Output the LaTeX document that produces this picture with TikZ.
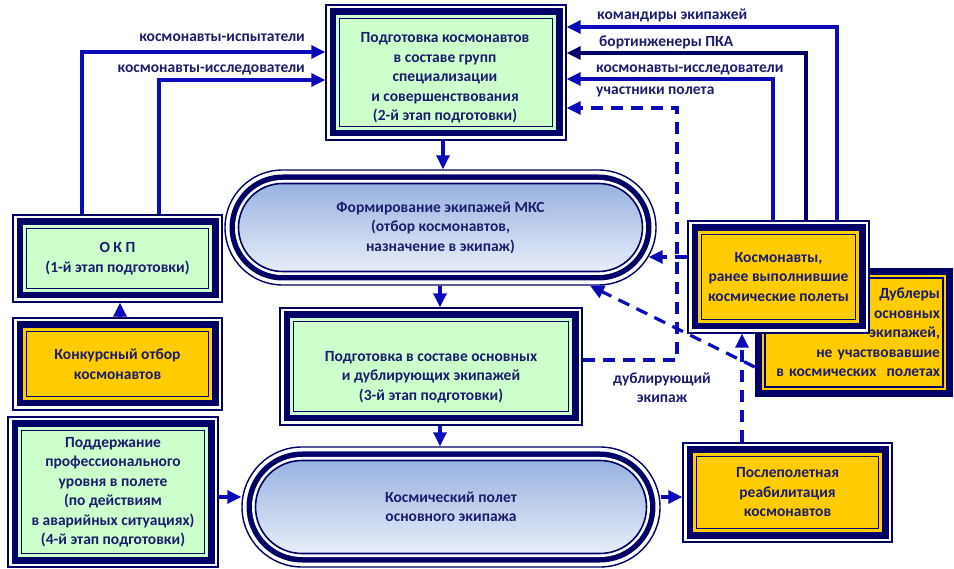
\documentclass[tikz,border=0pt]{standalone}
\usepackage{fontspec}
\setmainfont{Carlito}
\usetikzlibrary{arrows.meta}
\definecolor{navy}{HTML}{000066}
\definecolor{tcol}{HTML}{1C1C6C}
\definecolor{acol}{HTML}{0A0AB8}
\definecolor{lgreen}{HTML}{CCFFCC}
\definecolor{gold}{HTML}{FFCC00}
\definecolor{gtop}{HTML}{98B2E0}
\definecolor{gbot}{HTML}{E8EEF9}
\begin{document}
\begin{tikzpicture}[x=1pt,y=-1pt,
  txt/.style={font=\fontsize{15.5}{19.5}\selectfont\bfseries, text=tcol, align=center},
  lbl/.style={txt, inner sep=0pt},
  framebox/.style={draw=navy, line width=1.4pt, fill=white, inner sep=0pt, txt,
    path picture={
      \fill[navy] ([shift={(3.5pt,-3.5pt)}]path picture bounding box.north west) rectangle ([shift={(-3.5pt,3.5pt)}]path picture bounding box.south east);
      \fill[#1] ([shift={(10pt,-10pt)}]path picture bounding box.north west) rectangle ([shift={(-10pt,10pt)}]path picture bounding box.south east);
      \draw[navy, line width=1.8pt] ([shift={(13.5pt,-13.5pt)}]path picture bounding box.north west) rectangle ([shift={(-13.5pt,13.5pt)}]path picture bounding box.south east);
    }},
  stadium/.style={draw=navy, line width=1.4pt, fill=white, inner sep=0pt, txt, rounded corners=#1pt,
    path picture={
      \fill[navy, rounded corners={#1pt-4.5pt}] ([shift={(4.5pt,-4.5pt)}]path picture bounding box.north west) rectangle ([shift={(-4.5pt,4.5pt)}]path picture bounding box.south east);
      \fill[white, rounded corners={#1pt-10pt}] ([shift={(10pt,-10pt)}]path picture bounding box.north west) rectangle ([shift={(-10pt,10pt)}]path picture bounding box.south east);
      \shadedraw[top color=gtop, bottom color=gbot, draw=navy, line width=1.6pt, rounded corners={#1pt-13.5pt}] ([shift={(13.5pt,-13.5pt)}]path picture bounding box.north west) rectangle ([shift={(-13.5pt,13.5pt)}]path picture bounding box.south east);
    }},
  dubbox/.style={fill=navy, draw=none, txt, align=right, text width=172pt, inner xsep=13pt, inner ysep=0pt,
    path picture={
      \fill[gold] ([shift={(7pt,-7pt)}]path picture bounding box.north west) rectangle ([shift={(-7pt,7pt)}]path picture bounding box.south east);
      \draw[navy, line width=1.8pt] ([shift={(10pt,-10pt)}]path picture bounding box.north west) rectangle ([shift={(-10pt,10pt)}]path picture bounding box.south east);
    }},
  arrowst/.style={draw=acol, line width=3.2pt, -{Triangle[length=14pt,width=13pt]}},
  darkarrow/.style={arrowst, draw=navy},
  dashst/.style={arrowst, dash pattern=on 12pt off 8pt},
]
\useasboundingbox (0,0) rectangle (954,569);

% boxes
\node[framebox=lgreen, minimum width=240pt, minimum height=135pt] (box2) at (446,72.5) {};
\node[txt] (box2t) at (445,78) {Подготовка космонавтов\\в составе групп\\специализации\\и совершенствования\\(2-й этап подготовки)};

\node[stadium=57.5, minimum width=431pt, minimum height=115pt] (ell1) at (440.5,227.5) {Формирование экипажей МКС\\(отбор космонавтов,\\назначение в экипаж)};

\node[framebox=lgreen, minimum width=302pt, minimum height=117pt] (box3) at (431,366.5) {};
\node[txt] (box3t) at (431,377) {Подготовка в составе основных\\и дублирующих экипажей\\(3-й этап подготовки)};

\node[stadium=60, minimum width=418pt, minimum height=120pt] (ell2) at (451,507) {Космический полет\\основного экипажа};

\node[framebox=lgreen, minimum width=209pt, minimum height=87pt] (okp) at (117.5,258.5) {О К П\\(1-й этап подготовки)};
\node[framebox=gold, minimum width=209pt, minimum height=92pt] (konk) at (117.5,364) {Конкурсный отбор\\космонавтов};
\node[framebox=lgreen, minimum width=210pt, minimum height=150pt] (podd) at (113,492) {Поддержание\\профессионального\\уровня в полете\\(по действиям\\в аварийных ситуациях)\\(4-й этап подготовки)};

\node[dubbox, minimum width=198pt, minimum height=129pt] (dub) at (854,332.5) {Дублеры\\основных\\экипажей,\\не участвовавшие\\в космических\ \ полетах};
\node[framebox=gold, minimum width=181pt, minimum height=112pt] (kosm) at (778.5,277) {Космонавты,\\ранее выполнившие\\космические полеты};
\node[framebox=gold, minimum width=209pt, minimum height=99pt] (posle) at (787.5,492.5) {Послеполетная\\реабилитация\\космонавтов};

% labels
\node[lbl, anchor=west] (l1) at (597,15) {командиры экипажей};
\node[lbl, anchor=west] (l2) at (599,42) {бортинженеры ПКА};
\node[lbl, anchor=west] (l3) at (596,70) {космонавты-исследователи};
\node[lbl, anchor=west] (l4) at (596,92) {участники полета};
\node[lbl, anchor=east] (l5) at (305,38) {космонавты-испытатели};
\node[lbl, anchor=east] (l6) at (305,70) {космонавты-исследователи};
\node[lbl] (l7) at (662,387.5) {дублирующий\\экипаж};

% main flow
\draw[arrowst] ([xshift=-3pt]box2.south) -- ([xshift=2.5pt]ell1.north);
\draw[arrowst] ([xshift=-0.5pt]ell1.south) -- ([xshift=9pt]box3.north);
\draw[arrowst] ([xshift=9pt]box3.south) -- ([xshift=-11pt]ell2.north);
\draw[arrowst] ([xshift=2.5pt]konk.north) -- ([xshift=2.5pt]okp.south);
\draw[arrowst] ([yshift=-5pt]podd.east) -- ([yshift=10pt]ell2.west);
\draw[arrowst] ([yshift=10pt]ell2.east) -- ([yshift=-4.5pt]posle.west);

% left feeds
\draw[arrowst] ([xshift=-35.5pt]okp.north) |- ([yshift=20.5pt]box2.west);
\draw[arrowst] ([xshift=41.5pt]okp.north) |- ([yshift=-7.5pt]box2.west);

% right feeds
\draw[arrowst] ([xshift=58.5pt]kosm.north) |- ([yshift=45.5pt]box2.east);
\draw[darkarrow] ([xshift=27.5pt]kosm.north) |- ([yshift=19.5pt]box2.east);
\draw[arrowst] ([xshift=-5.5pt]kosm.north) |- ([yshift=-6.5pt]box2.east);

% dashed
\coordinate (dcorner) at (677,360);
\draw[dashst] ([yshift=6.5pt]box3.east) -- (dcorner) |- ([yshift=-35.5pt]box2.east);
\draw[dashst] ([yshift=20pt]kosm.west) -- ([xshift=-8pt,yshift=-29.5pt]ell1.east);
\draw[dashst] ([yshift=-34.5pt]dub.west) -- ([xshift=149.5pt]ell1.south);
\draw[dashst] ([xshift=-45.5pt]posle.north) -- ([xshift=-36.5pt]kosm.south);
\end{tikzpicture}
\end{document}
